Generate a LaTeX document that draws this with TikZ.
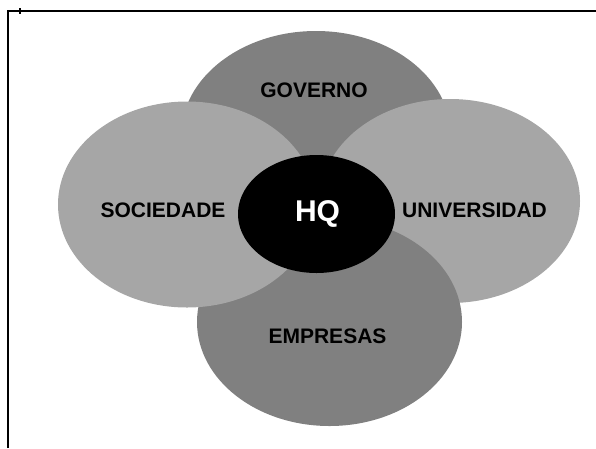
\documentclass[tikz,border=0pt]{standalone}
\usepackage{fontspec}
\setmainfont{Liberation Sans}
\usetikzlibrary{shapes.geometric}
\definecolor{darkpetal}{RGB}{128,128,128}
\definecolor{lightpetal}{RGB}{166,166,166}

\begin{document}
\begin{tikzpicture}[x=1pt, y=-1pt]
        \tikzstyle{petal} = [ellipse, inner sep=0pt, draw=none]
        \tikzstyle{word} = [anchor=base, inner sep=0pt, text=black,
            font=\fontsize{21}{24}\selectfont\bfseries]
        \useasboundingbox (0,0) rectangle (596,448);

        % frame
        \draw[line width=1.6pt] (8,448) -- (8,10.7) -- (596,10.7);
        \draw[line width=1.6pt] (20,8) -- (20,13.5);

        % petals, back to front
        \node[petal, fill=darkpetal, minimum width=270pt, minimum height=210pt]
            (governo) at (316,136) {};
        \node[petal, fill=lightpetal, minimum width=260pt, minimum height=204pt]
            (universidad) at (450,201) {};
        \node[petal, fill=darkpetal, minimum width=265pt, minimum height=208pt]
            (empresas) at (329.5,322) {};
        \node[petal, fill=lightpetal, minimum width=258pt, minimum height=206pt]
            (sociedade) at (187,204.5) {};
        \node[petal, fill=black, minimum width=157pt, minimum height=118pt]
            (hq) at (316.5,214) {};

        % labels
        \node[word] (governotxt) at (314,97.5) {GOVERNO};
        \node[word] (sociedadetxt) at (163,217) {SOCIEDADE};
        \node[word] (universidadtxt) at (474.5,217) {UNIVERSIDAD};
        \node[word] (empresastxt) at (327.5,343) {EMPRESAS};
        \node[word, text=white, font=\fontsize{30}{34}\selectfont\bfseries]
            (hqtxt) at (317.5,221) {HQ};
    \end{tikzpicture}
\end{document}
